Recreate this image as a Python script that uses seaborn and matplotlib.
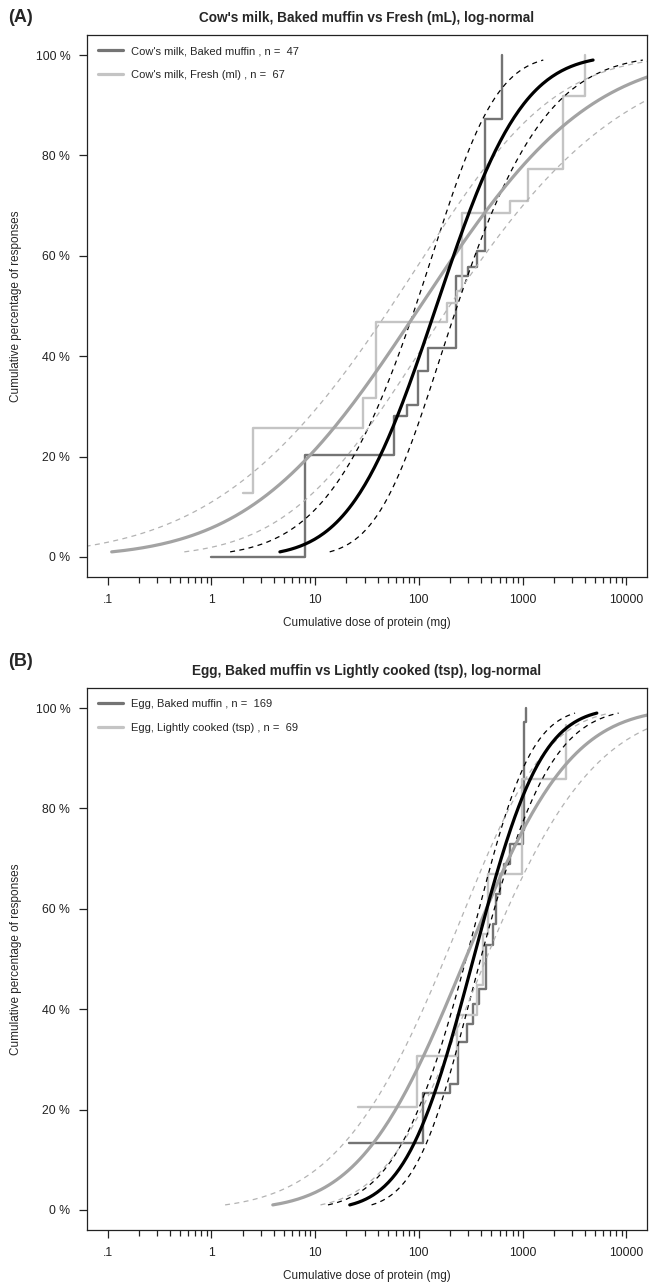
import math
import numpy as np
import pandas as pd
import seaborn as sns
import matplotlib.pyplot as plt
from matplotlib.lines import Line2D
from matplotlib.ticker import FixedLocator, NullFormatter

sns.set_style("ticks")
plt.rcParams['font.family'] = ['Liberation Sans', 'DejaVu Sans']
plt.rcParams['lines.dashed_pattern'] = [4, 3.5]

# ---- data ----
# panel A: cow's milk
a_title = "Cow's milk, Baked muffin vs Fresh (mL), log-normal"
a_labels = ["Cow's milk, Baked muffin , n =  47", "Cow's milk, Fresh (ml) , n =  67"]
a_muffin_dose = [1, 8, 57, 77, 98, 122, 228, 300, 360, 433, 630]
a_muffin_pct = [0, 20.3, 28.0, 30.3, 37.0, 41.6, 56.0, 57.8, 61.0, 87.3, 100]
a_fresh_dose = [2.0, 2.5, 29, 39, 186, 233, 260, 755, 1130, 2450, 4000]
a_fresh_pct = [12.7, 25.7, 31.7, 46.8, 50.6, 53.0, 68.5, 71.0, 77.3, 91.8, 100]

# panel B: egg
b_title = "Egg, Baked muffin vs Lightly cooked (tsp), log-normal"
b_labels = ["Egg, Baked muffin , n =  169", "Egg, Lightly cooked (tsp) , n =  69"]
b_muffin_dose = [21, 109, 200, 240, 290, 330, 380, 443, 520, 560, 600, 660, 760, 1000, 1030, 1070]
b_muffin_pct = [13.3, 23.3, 25.0, 33.5, 37.0, 41.0, 44.0, 52.8, 57.0, 63.0, 67.0, 69.0, 73.0, 75.7, 97.2, 100]
b_cooked_dose = [25.7, 96, 233, 360, 420, 463, 980, 2640]
b_cooked_pct = [20.5, 30.7, 38.8, 44.8, 55.0, 67.0, 85.9, 96.6]

# log-normal fits: log10 median, log10 sd, CI half width (log10) at median and at 1%/99%
a_fit_mu = [2.17, 2.016]
a_fit_sd = [0.649, 1.28]
a_ci_mid = [0.20, 0.28]
a_ci_tail = [0.48, 0.70]
b_fit_mu = [2.525, 2.448]
b_fit_sd = [0.512, 0.798]
b_ci_mid = [0.07, 0.20]
b_ci_tail = [0.21, 0.46]

x_ticks = [0.1, 1, 10, 100, 1000, 10000]
x_ticklabels = [".1", "1", "10", "100", "1000", "10000"]
y_ticks = [0, 20, 40, 60, 80, 100]

step_cols = ["#747474", "#c4c4c4"]
fit_cols = ["#000000", "#a3a3a3"]
ci_cols = ["#000000", "#b3b3b3"]

Z99 = 2.3263


def fit_curves(mu, sd, h0, ht):
    z = np.linspace(-Z99, Z99, 200)
    p = np.array([50 * (1 + math.erf(v / math.sqrt(2))) for v in z])
    h = np.sqrt(h0 ** 2 + (ht ** 2 - h0 ** 2) * (z / Z99) ** 2)
    centre = mu + sd * z
    return p, 10 ** centre, 10 ** (centre - h), 10 ** (centre + h)


def panel(ax, title, labels, steps, mus, sds, mids, tails):
    # empirical step curves
    for (dose, pct), col in zip(steps, step_cols):
        sns.lineplot(x=dose, y=pct, ax=ax, color=col, lw=1.7,
                     drawstyle="steps-post", estimator=None)
    # confidence bands
    for i in range(2):
        p, xc, xl, xh = fit_curves(mus[i], sds[i], mids[i], tails[i])
        for xx in (xl, xh):
            sns.lineplot(x=xx, y=p, ax=ax, color=ci_cols[i], lw=0.9,
                         linestyle="--", estimator=None, sort=False)
    # fitted log-normal curves
    for i in [1, 0]:
        p, xc, xl, xh = fit_curves(mus[i], sds[i], mids[i], tails[i])
        sns.lineplot(x=xc, y=p, ax=ax, color=fit_cols[i], lw=2.3,
                     estimator=None, sort=False)

    ax.set_xscale("log")
    ax.set_xlim(10 ** -1.2, 10 ** 4.2)
    ax.set_ylim(-4, 104)
    ax.set_xticks(x_ticks)
    ax.set_xticklabels(x_ticklabels)
    minors = [m * d for d in [0.1, 1, 10, 100, 1000] for m in range(2, 10)]
    ax.xaxis.set_minor_locator(FixedLocator(minors))
    ax.xaxis.set_minor_formatter(NullFormatter())
    ax.set_yticks(y_ticks)
    ax.set_yticklabels([f"{v} %" for v in y_ticks])
    ax.tick_params(axis="both", which="major", length=6, width=0.9,
                   labelsize=8.8, colors="#222222", pad=6)
    ax.tick_params(axis="x", which="minor", length=4, width=0.9, colors="#222222")
    for s in ax.spines.values():
        s.set_visible(True)
        s.set_linewidth(0.9)
        s.set_color("#222222")
    ax.set_xlabel("Cumulative dose of protein (mg)", fontsize=8.5, labelpad=8)
    ax.set_ylabel("Cumulative percentage of responses", fontsize=8.5, labelpad=10)
    ax.set_title(title, fontsize=9.8, fontweight="bold", pad=9)
    handles = [Line2D([], [], color=c, lw=2.3) for c in step_cols]
    ax.legend(handles, labels, loc="upper left", frameon=False, fontsize=8,
              handlelength=2.2, labelspacing=1.25, borderaxespad=0.6)


fig = plt.figure(figsize=(6.56, 12.85), dpi=100)
ax_a = fig.add_axes([0.1326, 0.5510, 0.8537, 0.4218])
ax_b = fig.add_axes([0.1326, 0.0428, 0.8537, 0.4218])

panel(ax_a, a_title, a_labels,
      [(a_muffin_dose, a_muffin_pct), (a_fresh_dose, a_fresh_pct)],
      a_fit_mu, a_fit_sd, a_ci_mid, a_ci_tail)
panel(ax_b, b_title, b_labels,
      [(b_muffin_dose, b_muffin_pct), (b_cooked_dose, b_cooked_pct)],
      b_fit_mu, b_fit_sd, b_ci_mid, b_ci_tail)

fig.text(0.012, 0.986, "(A)", fontsize=13, fontweight="bold", va="center")
fig.text(0.012, 0.485, "(B)", fontsize=13, fontweight="bold", va="center")

fig.savefig("out.png", dpi=100)
